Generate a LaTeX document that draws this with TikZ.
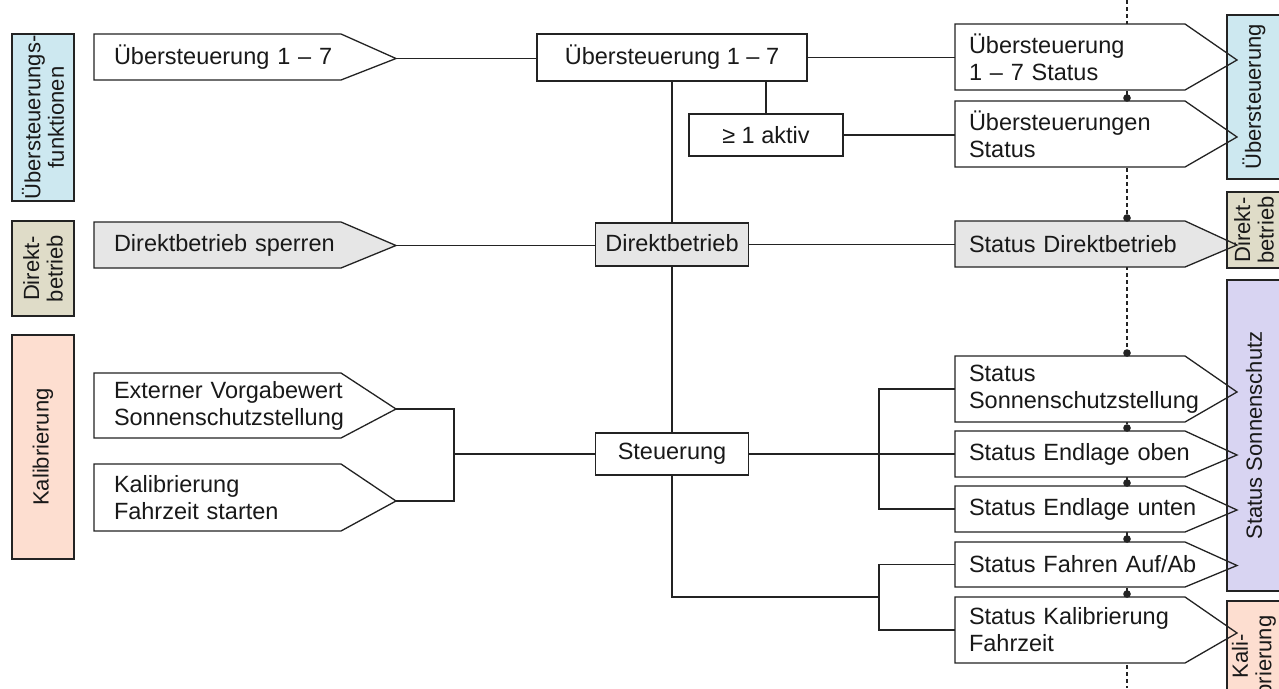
\documentclass[tikz,border=0pt]{standalone}
\usepackage{fontspec}
\setmainfont{Liberation Sans}
\usetikzlibrary{calc}

\pgfdeclarelayer{back}
\pgfdeclarelayer{fills}
\pgfdeclarelayer{cats}
\pgfsetlayers{back,fills,cats,main}

\definecolor{lineclr}{RGB}{35,35,35}
\definecolor{catblue}{RGB}{205,232,240}
\definecolor{cattan}{RGB}{223,220,200}
\definecolor{catsalmon}{RGB}{253,222,208}
\definecolor{catlilac}{RGB}{216,212,242}
\definecolor{boxgray}{RGB}{230,230,230}

\newcommand\txtfont{\fontsize{23.5}{27}\selectfont}
\newcommand\catfont{\fontsize{22}{23.5}\selectfont}
% one unbreakable line of a signal label
\newcommand\sigline[1]{\mbox{#1}}

\tikzset{
  wire/.style={draw=lineclr, line width=1.3pt},
  dashline/.style={draw=lineclr, line width=1.2pt, dash pattern=on 4pt off 3pt},
  arrowtext/.style={inner ysep=0pt, outer sep=0pt, align=left, font=\txtfont, text=black!90},
  inarrow/.style={arrowtext, inner xsep=20pt, text width=207pt},
  outarrow/.style={arrowtext, inner xsep=14pt, text width=202pt},
  funcbox/.style={draw=lineclr, line width=1.3pt, inner sep=0pt, outer sep=0pt,
                  font=\txtfont, text=black!90, align=center},
  catbox/.style={draw=lineclr, line width=1.3pt, rotate=90, inner sep=0pt, outer sep=0pt,
                 font=\catfont, text=black!90, align=center},
  junction/.style={fill=lineclr},
}

% filled pentagon behind a signal node: node, tip length, tip drop, colour
\newcommand\tipfill[4]{%
  \fill[#4] (#1.north west) -- (#1.north east) -- ([xshift=#2,yshift=-#3]#1.east)
    -- (#1.south east) -- (#1.south west) -- cycle;}
% outline of the same pentagon, plus a coordinate at its tip
\newcommand\tipdraw[3]{%
  \draw[wire, line join=miter] (#1.north west) -- (#1.north east) -- ([xshift=#2,yshift=-#3]#1.east)
    -- (#1.south east) -- (#1.south west) -- cycle;
  \coordinate (#1-tip) at ([xshift=#2,yshift=-#3]#1.east);}

\begin{document}
\begin{tikzpicture}[x=1pt,y=-1pt]
\useasboundingbox (0,0) rectangle (1279,688);
\begin{pgfonlayer}{back}
  \fill[white] (0,0) rectangle (1279,688);
\end{pgfonlayer}

% ---- input signals
\node[inarrow, minimum height=46pt] (in1) at (217.5,57) {\sigline{Übersteuerung 1 – 7}};
\node[inarrow, minimum height=46pt] (in2) at (217.5,245) {\sigline{Direktbetrieb sperren}};
\node[inarrow, minimum height=65pt] (in3) at (217.5,405.5) {\sigline{Externer Vorgabewert}\\\sigline{Sonnenschutzstellung}};
\node[inarrow, minimum height=67pt] (in4) at (217.5,497.5) {\sigline{Kalibrierung}\\\sigline{Fahrzeit starten}};

% ---- function blocks
\node[funcbox, minimum width=270pt, minimum height=47pt] (ue) at (672,57.5) {Übersteuerung 1 – 7};
\node[funcbox, minimum width=154pt, minimum height=42pt] (akt) at (766,135) {≥ 1 aktiv};
\node[funcbox, fill=boxgray, minimum width=153pt, minimum height=43pt] (dir) at (672,244.5) {\raisebox{3pt}{Direktbetrieb}};
\node[funcbox, minimum width=153pt, minimum height=42pt] (st) at (672,454) {\raisebox{5pt}{Steuerung}};

% ---- status outputs
\node[outarrow, minimum height=66pt] (out1) at (1070,57) {\sigline{Übersteuerung}\\\sigline{1 – 7 Status}};
\node[outarrow, minimum height=66pt] (out2) at (1070,134) {\sigline{Übersteuerungen}\\\sigline{Status}};
\node[outarrow, minimum height=46pt] (out3) at (1070,244) {\sigline{Status Direktbetrieb}};
\node[outarrow, minimum height=66pt] (out4) at (1070,389) {\sigline{Status}\\\sigline{Sonnenschutzstellung}};
\node[outarrow, minimum height=46pt] (out5) at (1070,454) {\sigline{Status Endlage oben}};
\node[outarrow, minimum height=46pt] (out6) at (1070,509) {\sigline{Status Endlage unten}};
\node[outarrow, minimum height=45pt] (out7) at (1070,564.5) {\sigline{Status Fahren Auf/Ab}};
\node[outarrow, minimum height=66pt] (out8) at (1070,630) {\sigline{Status Kalibrierung}\\\sigline{Fahrzeit}};

% ---- pentagon fills
\begin{pgfonlayer}{fills}
  \tipfill{in1}{55pt}{1.5pt}{white}
  \tipfill{in2}{55pt}{0.5pt}{boxgray}
  \tipfill{in3}{55pt}{3.5pt}{white}
  \tipfill{in4}{55pt}{3.5pt}{white}
  \tipfill{out1}{52pt}{3pt}{white}
  \tipfill{out2}{52pt}{3pt}{white}
  \tipfill{out3}{52pt}{1pt}{boxgray}
  \tipfill{out4}{52pt}{3pt}{white}
  \tipfill{out5}{52pt}{1pt}{white}
  \tipfill{out6}{52pt}{1pt}{white}
  \tipfill{out7}{52pt}{1pt}{white}
  \tipfill{out8}{52pt}{3pt}{white}
\end{pgfonlayer}

% ---- pentagon outlines
\tipdraw{in1}{55pt}{1.5pt}
\tipdraw{in2}{55pt}{0.5pt}
\tipdraw{in3}{55pt}{3.5pt}
\tipdraw{in4}{55pt}{3.5pt}
\tipdraw{out1}{52pt}{3pt}
\tipdraw{out2}{52pt}{3pt}
\tipdraw{out3}{52pt}{1pt}
\tipdraw{out4}{52pt}{3pt}
\tipdraw{out5}{52pt}{1pt}
\tipdraw{out6}{52pt}{1pt}
\tipdraw{out7}{52pt}{1pt}
\tipdraw{out8}{52pt}{3pt}

% ---- category bars
\begin{pgfonlayer}{cats}
  \node[catbox, fill=catblue, minimum width=167pt, minimum height=62pt] (c1) at (43,117.5) {Übersteuerungs-\\funktionen};
  \node[catbox, fill=cattan, minimum width=95pt, minimum height=62pt] (c2) at (43,268.5) {Direkt-\\betrieb};
  \node[catbox, fill=catsalmon, minimum width=224pt, minimum height=62pt] (c3) at (43,447) {Kalibrierung};
  \node[catbox, fill=catblue, minimum width=164pt, minimum height=54pt] (r1) at (1254,97) {Übersteuerung};
  \node[catbox, fill=cattan, minimum width=76pt, minimum height=54pt] (r2) at (1254,230) {Direkt-\\betrieb};
  \node[catbox, fill=catlilac, minimum width=311pt, minimum height=54pt] (r3) at (1254,435.5) {Status Sonnenschutz};
  \node[catbox, fill=catsalmon, minimum width=110pt, minimum height=54pt] (r4) at (1254,656) {Kali-\\brierung};
\end{pgfonlayer}

% ---- connectors
\coordinate (jl) at (454,454);
\coordinate (jr) at (879,454);
\coordinate (jb) at (879,597);
\coordinate (dtop) at (1127,0);
\coordinate (dbot) at (1127,688);
\begin{pgfonlayer}{back}
  \draw[dashline] (dtop) -- (dbot);
  \draw[wire] (in1-tip) -- (in1-tip -| ue.west);
  \draw[wire] (ue.east) -- (ue.east -| out1.west);
  \draw[wire] (akt.north |- ue.south) -- (akt.north);
  \draw[wire] (akt.east) -- (akt.east -| out2.west);
  \draw[wire] (ue.south) -- (dir.north);
  \draw[wire] (in2-tip) -- (in2-tip -| dir.west);
  \draw[wire] (dir.east) -- (dir.east -| out3.west);
  \draw[wire] (dir.south) -- (st.north);
  \draw[wire] (in3-tip) -| (jl) |- (in4-tip);
  \draw[wire] (jl) -- (st.west);
  \draw[wire] (st.east) -- (jr);
  \draw[wire] (out4.west) -| (jr) |- (out6.west);
  \draw[wire] (jr) -- (out5.west);
  \draw[wire] (st.south) |- (jb);
  \draw[wire] (out7.west) -| (jb) |- (out8.west);
\end{pgfonlayer}

% ---- junction dots on the status bus
\foreach \o in {out2,out3,out4,out5,out6,out7,out8}{
  \coordinate (d-\o) at (\o.north -| dtop);
  \fill[junction] ([yshift=3pt]d-\o) circle (3.8pt);
}
\end{tikzpicture}
\end{document}
